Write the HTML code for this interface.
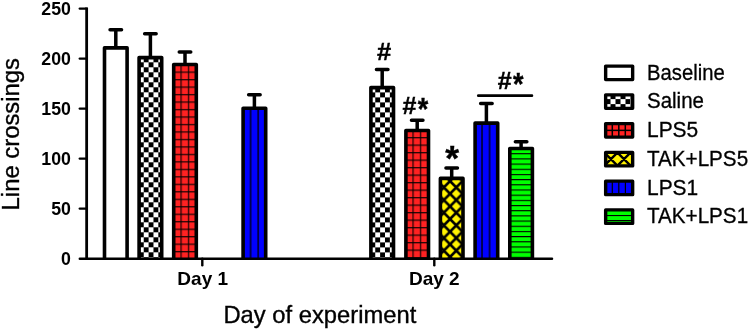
<!DOCTYPE html>
<html><head><meta charset="utf-8"><title>Line crossings</title>
<style>
html,body{margin:0;padding:0;background:#fff;}
svg{display:block;font-family:"Liberation Sans",Arial,sans-serif;fill:#000;}
</style></head><body>
<svg width="749" height="329" viewBox="0 0 749 329">
<rect width="749" height="329" fill="#fff"/>
<defs>
<pattern id="chk" width="9.74" height="10" patternUnits="userSpaceOnUse" x="148.6" y="62.3">
<rect width="9.74" height="10" fill="#fff"/><rect width="4.87" height="5" fill="#000"/><rect x="4.87" y="5" width="4.87" height="5" fill="#000"/></pattern>
<pattern id="chk2" width="9.74" height="10" patternUnits="userSpaceOnUse" x="375.25" y="87.4">
<rect width="9.74" height="10" fill="#fff"/><rect width="4.87" height="5" fill="#000"/><rect x="4.87" y="5" width="4.87" height="5" fill="#000"/></pattern>
<pattern id="grd" width="7.4" height="7.48" patternUnits="userSpaceOnUse" x="180.4" y="71.5">
<rect width="7.4" height="7.48" fill="#ff2222"/><rect y="0.15" width="7.4" height="1.1" fill="#000"/><rect x="0.15" width="1.1" height="7.48" fill="#000"/></pattern>
<pattern id="grd2" width="7.4" height="7.5" patternUnits="userSpaceOnUse" x="412.4" y="137.0">
<rect width="7.4" height="7.5" fill="#ff2222"/><rect y="0.15" width="7.4" height="1.1" fill="#000"/><rect x="0.15" width="1.1" height="7.5" fill="#000"/></pattern>
<pattern id="xh" width="12.4" height="12.65" patternUnits="userSpaceOnUse" x="437.65" y="3.98">
<rect width="12.4" height="12.65" fill="#fff200"/><path d="M-12.4,-12.65L24.8,25.3M-12.4,25.3L24.8,-12.65" stroke="#000" stroke-width="2.6" fill="none"/></pattern>
<pattern id="vl1" width="7.6" height="8" patternUnits="userSpaceOnUse" x="249.6" y="0"><rect width="7.6" height="8" fill="#0000ff"/><rect x="0.35" width="1.3" height="8" fill="#000"/></pattern>
<pattern id="vl2" width="7.6" height="8" patternUnits="userSpaceOnUse" x="481.0" y="0"><rect width="7.6" height="8" fill="#0000ff"/><rect x="0.35" width="1.3" height="8" fill="#000"/></pattern>
<pattern id="hl" width="8" height="5.18" patternUnits="userSpaceOnUse" x="0" y="153.2">
<rect width="8" height="5.18" fill="#00ff00"/><rect width="8" height="1.1" fill="#000"/></pattern>
</defs>
<path d="M115.8,47.85V29.65M110.05,29.65H121.55" stroke="#000" stroke-width="3.5" stroke-linecap="round" fill="none"/>
<rect x="104.50" y="47.85" width="22.6" height="210.90" fill="#fff"/>
<path d="M104.50,258.75V47.85H127.10V258.75" fill="none" stroke="#000" stroke-width="3.6" stroke-linejoin="round"/>
<path d="M150.4,57.6V33.8M144.65,33.8H156.15" stroke="#000" stroke-width="3.5" stroke-linecap="round" fill="none"/>
<rect x="139.10" y="57.6" width="22.6" height="201.15" fill="url(#chk)"/>
<path d="M139.10,258.75V57.6H161.70V258.75" fill="none" stroke="#000" stroke-width="3.6" stroke-linejoin="round"/>
<path d="M185.0,64.5V52.0M179.25,52.0H190.75" stroke="#000" stroke-width="3.5" stroke-linecap="round" fill="none"/>
<rect x="173.70" y="64.5" width="22.6" height="194.25" fill="url(#grd)"/>
<path d="M173.70,258.75V64.5H196.30V258.75" fill="none" stroke="#000" stroke-width="3.6" stroke-linejoin="round"/>
<path d="M254.4,108.2V94.8M248.65,94.8H260.15" stroke="#000" stroke-width="3.5" stroke-linecap="round" fill="none"/>
<rect x="243.10" y="108.2" width="22.6" height="150.55" fill="url(#vl1)"/>
<path d="M243.10,258.75V108.2H265.70V258.75" fill="none" stroke="#000" stroke-width="3.6" stroke-linejoin="round"/>
<path d="M382.2,87.6V69.6M376.45,69.6H387.95" stroke="#000" stroke-width="3.5" stroke-linecap="round" fill="none"/>
<rect x="370.90" y="87.6" width="22.6" height="171.15" fill="url(#chk2)"/>
<path d="M370.90,258.75V87.6H393.50V258.75" fill="none" stroke="#000" stroke-width="3.6" stroke-linejoin="round"/>
<path d="M417.2,130.5V120.3M411.45,120.3H422.95" stroke="#000" stroke-width="3.5" stroke-linecap="round" fill="none"/>
<rect x="405.90" y="130.5" width="22.6" height="128.25" fill="url(#grd2)"/>
<path d="M405.90,258.75V130.5H428.50V258.75" fill="none" stroke="#000" stroke-width="3.6" stroke-linejoin="round"/>
<path d="M451.7,178.4V167.9M445.95,167.9H457.45" stroke="#000" stroke-width="3.5" stroke-linecap="round" fill="none"/>
<rect x="440.40" y="178.4" width="22.6" height="80.35" fill="url(#xh)"/>
<path d="M440.40,258.75V178.4H463.00V258.75" fill="none" stroke="#000" stroke-width="3.6" stroke-linejoin="round"/>
<path d="M486.4,123.1V103.6M480.65,103.6H492.15" stroke="#000" stroke-width="3.5" stroke-linecap="round" fill="none"/>
<rect x="475.10" y="123.1" width="22.6" height="135.65" fill="url(#vl2)"/>
<path d="M475.10,258.75V123.1H497.70V258.75" fill="none" stroke="#000" stroke-width="3.6" stroke-linejoin="round"/>
<path d="M521.1,148.5V141.8M515.35,141.8H526.85" stroke="#000" stroke-width="3.5" stroke-linecap="round" fill="none"/>
<rect x="509.80" y="148.5" width="22.6" height="110.25" fill="url(#hl)"/>
<path d="M509.80,258.75V148.5H532.40V258.75" fill="none" stroke="#000" stroke-width="3.6" stroke-linejoin="round"/>
<path d="M86.65,7.4V258.75" stroke="#000" stroke-width="2.8" fill="none"/>
<path d="M79.8,258.75H552" stroke="#000" stroke-width="2.5" fill="none" stroke-linecap="round"/>
<text transform="translate(70.9,264.8) scale(0.95,1)" font-size="18.7" font-weight="bold" text-anchor="end">0</text>
<path d="M79.8,208.60000000000002H86" stroke="#000" stroke-width="2.4" fill="none" stroke-linecap="round"/>
<text transform="translate(70.9,214.8) scale(0.95,1)" font-size="18.7" font-weight="bold" text-anchor="end">50</text>
<path d="M79.8,158.60000000000002H86" stroke="#000" stroke-width="2.4" fill="none" stroke-linecap="round"/>
<text transform="translate(70.9,164.8) scale(0.95,1)" font-size="18.7" font-weight="bold" text-anchor="end">100</text>
<path d="M79.8,108.60000000000002H86" stroke="#000" stroke-width="2.4" fill="none" stroke-linecap="round"/>
<text transform="translate(70.9,114.80000000000003) scale(0.95,1)" font-size="18.7" font-weight="bold" text-anchor="end">150</text>
<path d="M79.8,58.60000000000002H86" stroke="#000" stroke-width="2.4" fill="none" stroke-linecap="round"/>
<text transform="translate(70.9,64.80000000000003) scale(0.95,1)" font-size="18.7" font-weight="bold" text-anchor="end">200</text>
<path d="M79.8,8.600000000000023H86" stroke="#000" stroke-width="2.4" fill="none" stroke-linecap="round"/>
<text transform="translate(70.9,14.800000000000022) scale(0.95,1)" font-size="18.7" font-weight="bold" text-anchor="end">250</text>
<path d="M202.3,258.75V265.3" stroke="#000" stroke-width="2.4" fill="none" stroke-linecap="round"/>
<text transform="translate(202.70000000000002,285.45) scale(1.075,1)" font-size="17.7" font-weight="bold" text-anchor="middle">Day 1</text>
<path d="M434.3,258.75V265.3" stroke="#000" stroke-width="2.4" fill="none" stroke-linecap="round"/>
<text transform="translate(434.3,285.45) scale(1.075,1)" font-size="17.7" font-weight="bold" text-anchor="middle">Day 2</text>
<text transform="translate(319.85,323.0) scale(0.99,1)" font-size="24" font-weight="normal" text-anchor="middle" stroke="#000" stroke-width="0.35">Day of experiment</text>
<text transform="translate(18.9,134.2) scale(1.0,1) rotate(-90)" font-size="23.85" font-weight="normal" text-anchor="middle" stroke="#000" stroke-width="0.35">Line crossings</text>
<text transform="translate(384,59.7) scale(1.065,1)" font-size="24" font-weight="bold" text-anchor="middle" stroke="#000" stroke-width="0.4">#</text>
<text transform="translate(409.35,113.5) scale(1.04,1)" font-size="24" font-weight="bold" text-anchor="middle" stroke="#000" stroke-width="0.4">#</text>
<text transform="translate(423.0,119.5) scale(0.87,1)" font-size="31" font-weight="bold" text-anchor="middle" stroke="#000" stroke-width="0.4">*</text>
<text transform="translate(452.2,169.6) scale(1.03,1)" font-size="34.5" font-weight="bold" text-anchor="middle" stroke="#000" stroke-width="0.4">*</text>
<text transform="translate(504.7,88.6) scale(1.04,1)" font-size="24" font-weight="bold" text-anchor="middle" stroke="#000" stroke-width="0.4">#</text>
<text transform="translate(518.35,94.7) scale(0.87,1)" font-size="31" font-weight="bold" text-anchor="middle" stroke="#000" stroke-width="0.4">*</text>
<path d="M478.3,95.65H531.9" stroke="#000" stroke-width="2.7" stroke-linecap="round" fill="none"/>
<clipPath id="lc0"><rect x="605.65" y="66.10" width="27.0" height="13.5"/></clipPath><g clip-path="url(#lc0)"><rect x="605.65" y="66.10" width="27.0" height="13.5" fill="#fff"/></g>
<rect x="605.65" y="66.10" width="27.0" height="13.5" fill="none" stroke="#000" stroke-width="3.4" stroke-linejoin="round"/>
<text transform="translate(647.0,79.6) scale(0.956,1)" font-size="21.2" font-weight="normal" text-anchor="start" stroke="#000" stroke-width="0.3">Baseline</text>
<clipPath id="lc1"><rect x="605.65" y="94.86" width="27.0" height="13.5"/></clipPath><g clip-path="url(#lc1)"><rect x="605.65" y="94.86" width="27.0" height="13.5" fill="#fff"/><rect x="605.5" y="89.11" width="5" height="5" fill="#000"/><rect x="615.5" y="89.11" width="5" height="5" fill="#000"/><rect x="625.5" y="89.11" width="5" height="5" fill="#000"/><rect x="635.5" y="89.11" width="5" height="5" fill="#000"/><rect x="600.5" y="94.11" width="5" height="5" fill="#000"/><rect x="610.5" y="94.11" width="5" height="5" fill="#000"/><rect x="620.5" y="94.11" width="5" height="5" fill="#000"/><rect x="630.5" y="94.11" width="5" height="5" fill="#000"/><rect x="605.5" y="99.11" width="5" height="5" fill="#000"/><rect x="615.5" y="99.11" width="5" height="5" fill="#000"/><rect x="625.5" y="99.11" width="5" height="5" fill="#000"/><rect x="635.5" y="99.11" width="5" height="5" fill="#000"/><rect x="600.5" y="104.11" width="5" height="5" fill="#000"/><rect x="610.5" y="104.11" width="5" height="5" fill="#000"/><rect x="620.5" y="104.11" width="5" height="5" fill="#000"/><rect x="630.5" y="104.11" width="5" height="5" fill="#000"/></g>
<rect x="605.65" y="94.86" width="27.0" height="13.5" fill="none" stroke="#000" stroke-width="3.4" stroke-linejoin="round"/>
<text transform="translate(647.0,108.35) scale(0.967,1)" font-size="21.2" font-weight="normal" text-anchor="start" stroke="#000" stroke-width="0.3">Saline</text>
<clipPath id="lc2"><rect x="605.65" y="123.62" width="27.0" height="13.5"/></clipPath><g clip-path="url(#lc2)"><rect x="605.65" y="123.62" width="27.0" height="13.5" fill="#ff2222"/><rect x="611.55" y="123.62" width="1.5" height="13.5" fill="#000"/><rect x="618.05" y="123.62" width="1.5" height="13.5" fill="#000"/><rect x="624.55" y="123.62" width="1.5" height="13.5" fill="#000"/><rect x="605.65" y="129.62" width="27.0" height="1.5" fill="#000"/></g>
<rect x="605.65" y="123.62" width="27.0" height="13.5" fill="none" stroke="#000" stroke-width="3.4" stroke-linejoin="round"/>
<text transform="translate(647.0,137.1) scale(0.987,1)" font-size="21.2" font-weight="normal" text-anchor="start" stroke="#000" stroke-width="0.3">LPS5</text>
<clipPath id="lc3"><rect x="605.65" y="152.38" width="27.0" height="13.5"/></clipPath><g clip-path="url(#lc3)"><rect x="605.65" y="152.38" width="27.0" height="13.5" fill="#fff200"/><path d="M564.76,139.13L604.76,179.13M564.76,179.13L604.76,139.13M577.8299999999999,139.13L617.8299999999999,179.13M577.8299999999999,179.13L617.8299999999999,139.13M590.9,139.13L630.9,179.13M590.9,179.13L630.9,139.13M603.97,139.13L643.97,179.13M603.97,179.13L643.97,139.13M617.04,139.13L657.04,179.13M617.04,179.13L657.04,139.13M630.11,139.13L670.11,179.13M630.11,179.13L670.11,139.13" stroke="#000" stroke-width="2.4" fill="none"/></g>
<rect x="605.65" y="152.38" width="27.0" height="13.5" fill="none" stroke="#000" stroke-width="3.4" stroke-linejoin="round"/>
<text transform="translate(647.0,165.85) scale(0.974,1)" font-size="21.2" font-weight="normal" text-anchor="start" stroke="#000" stroke-width="0.3">TAK+LPS5</text>
<clipPath id="lc4"><rect x="605.65" y="181.14" width="27.0" height="13.5"/></clipPath><g clip-path="url(#lc4)"><rect x="605.65" y="181.14" width="27.0" height="13.5" fill="#0000ff"/><rect x="611.6999999999999" y="181.14" width="1.2" height="13.5" fill="#000"/><rect x="618.1999999999999" y="181.14" width="1.2" height="13.5" fill="#000"/><rect x="624.8" y="181.14" width="1.2" height="13.5" fill="#000"/></g>
<rect x="605.65" y="181.14" width="27.0" height="13.5" fill="none" stroke="#000" stroke-width="3.4" stroke-linejoin="round"/>
<text transform="translate(647.0,194.6) scale(0.987,1)" font-size="21.2" font-weight="normal" text-anchor="start" stroke="#000" stroke-width="0.3">LPS1</text>
<clipPath id="lc5"><rect x="605.65" y="209.90" width="27.0" height="13.5"/></clipPath><g clip-path="url(#lc5)"><rect x="605.65" y="209.90" width="27.0" height="13.5" fill="#00ff00"/><rect x="605.65" y="215.00" width="27.0" height="1.1" fill="#000"/><rect x="605.65" y="220.00" width="27.0" height="1.1" fill="#000"/></g>
<rect x="605.65" y="209.90" width="27.0" height="13.5" fill="none" stroke="#000" stroke-width="3.4" stroke-linejoin="round"/>
<text transform="translate(647.0,223.35) scale(0.974,1)" font-size="21.2" font-weight="normal" text-anchor="start" stroke="#000" stroke-width="0.3">TAK+LPS1</text>
</svg>
</body></html>
